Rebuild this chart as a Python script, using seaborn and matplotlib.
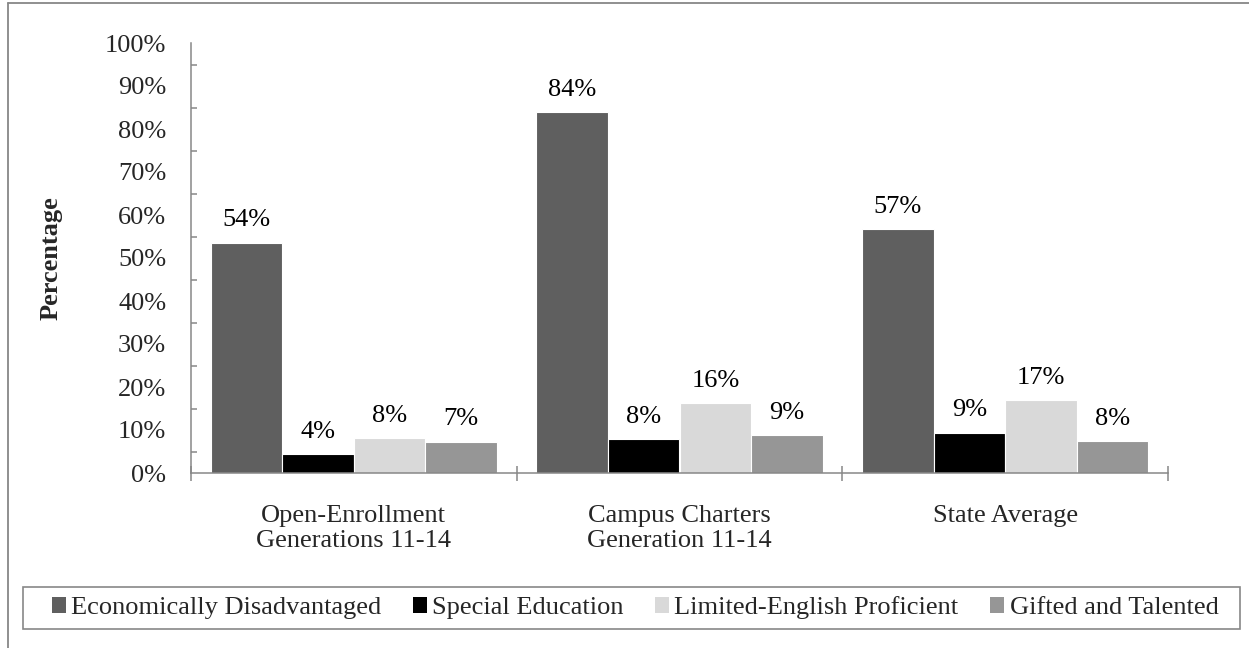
#!/usr/bin/env python3
"""Student population shares by campus type (grouped bar chart)."""

import matplotlib
matplotlib.use("Agg")
import matplotlib.pyplot as plt
import numpy as np
import pandas as pd
import seaborn as sns
from matplotlib.lines import Line2D
from matplotlib.patches import Rectangle
from matplotlib.ticker import FixedLocator, FuncFormatter

# --- data ------------------------------------------------------------------
groups = [
    "Open-Enrollment\nGenerations 11-14",
    "Campus Charters\nGeneration 11-14",
    "State Average",
]
categories = [
    "Economically Disadvantaged",
    "Special Education",
    "Limited-English Proficient",
    "Gifted and Talented",
]
econ_disadv = [53.6, 84.0, 56.7]
special_ed = [4.4, 7.9, 9.4]
limited_eng = [8.2, 16.2, 16.9]
gifted = [7.3, 8.9, 7.5]
y_ticks = [0, 10, 20, 30, 40, 50, 60, 70, 80, 90, 100]

palette = ["#5f5f5f", "#000000", "#d9d9d9", "#969696"]
AXIS_GREY = "#878787"
FS = 19

rows = []
for cat, vals in zip(categories, [econ_disadv, special_ed, limited_eng, gifted]):
    for grp, v in zip(groups, vals):
        rows.append({"group": grp, "category": cat, "value": v})
df = pd.DataFrame(rows)

sns.set_style("white")
plt.rcParams["font.family"] = ["Liberation Serif", "DejaVu Serif"]
plt.rcParams["font.size"] = FS

fig = plt.figure(figsize=(12.49, 6.48), dpi=100)
ax = fig.add_axes([191 / 1249, 1 - 473 / 648, 977 / 1249, 430 / 648])

sns.barplot(
    data=df, x="group", y="value", hue="category",
    order=groups, hue_order=categories, palette=palette,
    width=0.88, saturation=1, edgecolor="white", linewidth=0.8,
    legend=False, ax=ax,
)

for cont in ax.containers:
    vals = [bar.get_height() for bar in cont]
    ax.bar_label(cont, labels=[f"{round(v):.0f}%" for v in vals],
                 padding=8, fontsize=FS, color="black")

# axes styling
ax.set_ylim(0, 100)
ax.set_xlim(-0.5, 2.5)
ax.yaxis.set_major_locator(FixedLocator(y_ticks))
ax.yaxis.set_minor_locator(FixedLocator([t + 5 for t in y_ticks[:-1]]))
ax.yaxis.set_major_formatter(FuncFormatter(lambda v, _: f"{v:.0f}%"))
ax.tick_params(axis="y", which="major", direction="inout", length=10.8,
               width=1.1, color=AXIS_GREY, pad=12.5, labelsize=FS)
ax.tick_params(axis="y", which="minor", direction="in", length=4.3,
               width=1.1, color=AXIS_GREY, left=True)

ax.set_xticks([-0.5, 0.5, 1.5, 2.5])
ax.set_xticklabels([])
ax.set_xticks(range(len(groups)), minor=True)
ax.set_xticklabels(groups, minor=True, fontsize=FS)
ax.tick_params(axis="x", which="major", direction="inout", length=10.8,
               width=1.1, color=AXIS_GREY, bottom=True)
ax.tick_params(axis="x", which="minor", length=0, pad=23)

for side in ["top", "right"]:
    ax.spines[side].set_visible(False)
for side in ["left", "bottom"]:
    ax.spines[side].set_color(AXIS_GREY)
    ax.spines[side].set_linewidth(1.1)

ax.set_xlabel("")
ax.set_ylabel("Percentage", fontweight="bold", fontsize=FS)
ax.yaxis.set_label_coords((63 - 191) / 977, 0.5)

# legend in a framed box along the bottom
handles = [Rectangle((0, 0), 1, 1, facecolor=c, edgecolor="none") for c in palette]
fig.legend(handles, categories, loc="center", ncol=4,
           bbox_to_anchor=(635 / 1249, 1 - 608 / 648), frameon=False,
           handlelength=0.53, handleheight=0.53, handletextpad=0.2,
           columnspacing=1.2, fontsize=FS)
fig.add_artist(Rectangle((23 / 1249, 1 - 629 / 648), 1217 / 1249, 42 / 648,
                         transform=fig.transFigure, fill=False,
                         edgecolor=AXIS_GREY, linewidth=1.2))

# outer chart border (left and top edges visible)
fig.add_artist(Line2D([7.5 / 1249, 7.5 / 1249], [0, 1 - 2.5 / 648],
                      transform=fig.transFigure, color=AXIS_GREY, linewidth=1.3))
fig.add_artist(Line2D([7.5 / 1249, 1], [1 - 2.5 / 648, 1 - 2.5 / 648],
                      transform=fig.transFigure, color=AXIS_GREY, linewidth=1.3))

fig.savefig("out.png", dpi=100)
plt.close(fig)
